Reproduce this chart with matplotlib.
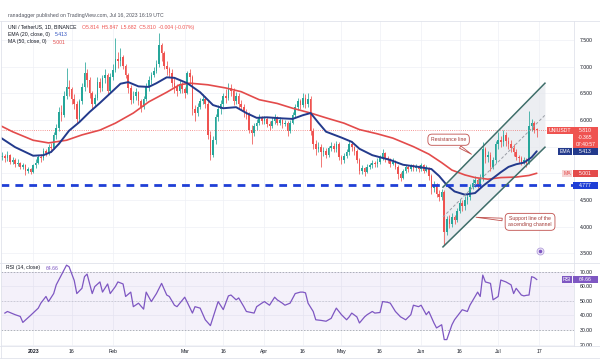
import numpy as np
import matplotlib
matplotlib.use("Agg")
import matplotlib.pyplot as plt
from matplotlib.patches import Rectangle
from matplotlib.lines import Line2D

plt.rcParams['font.family'] = ['Liberation Sans', 'DejaVu Sans']

W, H = 600, 360

# daily candles UNI/USDT, day 0 = 2023-01-01, first candle 2022-12-20
first_day = -12
first_open = 5.30
closes = [
    5.32, 5.28, 5.35, 5.22, 5.25, 5.18, 5.20,
    5.12, 5.15, 5.05, 5.08, 5.02, 5.15, 5.20,
    5.30, 5.28, 5.42, 5.38, 5.50, 5.47, 5.72,
    5.85, 6.15, 6.10, 6.45, 6.62, 6.58, 6.40,
    6.30, 6.02, 6.35, 6.62, 6.88, 6.75, 6.50,
    6.30, 6.42, 6.72, 6.60, 6.78, 6.85, 6.55,
    6.80, 6.94, 7.15, 7.10, 7.18, 7.02, 6.85,
    6.60, 6.38, 6.45, 6.52, 6.35, 6.25, 6.40,
    6.62, 6.75, 6.85, 6.92, 7.05, 7.40, 7.25,
    7.02, 6.95, 6.88, 6.70, 6.62, 6.55, 6.68,
    6.58, 6.50, 6.88, 6.80, 6.20, 6.13, 6.25,
    6.35, 6.40, 6.30, 5.72, 5.35, 5.62, 6.05,
    6.20, 6.30, 6.45, 6.42, 6.60, 6.55, 6.35,
    6.45, 6.30, 6.25, 6.15, 6.10, 5.82, 5.75,
    5.88, 5.95, 6.05, 5.98, 6.02, 5.92, 5.88,
    5.98, 6.05, 5.95, 6.00, 5.92, 5.95, 5.80,
    5.95, 6.10, 6.25, 6.35, 6.28, 6.42, 6.30,
    6.40, 5.80, 5.55, 5.45, 5.50, 5.40, 5.42,
    5.35, 5.48, 5.52, 5.45, 5.55, 5.30, 5.25,
    5.32, 5.40, 5.55, 5.50, 5.42, 5.25, 5.05,
    5.10, 5.02, 5.12, 5.15, 5.20, 5.18, 5.22,
    5.30, 5.38, 5.28, 5.25, 5.18, 5.22, 5.12,
    4.98, 4.92, 5.05, 5.12, 5.08, 5.15, 5.10,
    5.12, 5.08, 5.15, 5.05, 5.10, 4.95, 4.72,
    4.78, 4.62, 4.55, 4.65, 3.90, 4.15, 4.05,
    4.18, 4.12, 4.30, 4.45, 4.38, 4.50, 4.55,
    4.75, 4.82, 4.88, 4.80, 4.90, 5.45, 5.30,
    5.35, 5.12, 5.25, 5.55, 5.62, 5.58, 5.72,
    5.60, 5.55, 5.48, 5.40, 5.30, 5.28, 5.22,
    5.25, 5.20, 5.88, 5.95, 5.814, 5.810,
]
highs = [
    5.40, 5.36, 5.42, 5.37, 5.30, 5.28, 5.26,
    5.22, 5.20, 5.17, 5.12, 5.10, 5.18, 5.26,
    5.35, 5.36, 5.48, 5.46, 5.55, 5.56, 5.78,
    5.92, 6.25, 6.28, 6.55, 6.97, 6.75, 6.62,
    6.48, 6.35, 6.40, 6.70, 7.09, 6.95, 6.80,
    6.55, 6.48, 6.80, 6.78, 6.85, 6.95, 6.88,
    6.88, 7.05, 7.54, 7.28, 7.35, 7.22, 7.05,
    6.88, 6.65, 6.55, 6.60, 6.55, 6.40, 6.45,
    6.70, 6.82, 6.90, 7.00, 7.12, 7.63, 7.45,
    7.30, 7.10, 7.00, 6.95, 6.78, 6.68, 6.75,
    6.72, 6.62, 6.92, 6.95, 6.85, 6.28, 6.32,
    6.42, 6.48, 6.45, 6.35, 5.80, 5.70, 6.12,
    6.28, 6.38, 6.50, 6.58, 6.70, 6.68, 6.60,
    6.52, 6.50, 6.38, 6.30, 6.20, 6.15, 5.90,
    5.95, 6.02, 6.12, 6.08, 6.08, 6.05, 5.98,
    6.05, 6.12, 6.08, 6.05, 6.02, 6.00, 5.98,
    6.00, 6.15, 6.30, 6.42, 6.40, 6.50, 6.48,
    6.50, 6.45, 5.85, 5.62, 5.58, 5.55, 5.50,
    5.48, 5.52, 5.58, 5.56, 5.60, 5.58, 5.35,
    5.38, 5.45, 5.62, 5.60, 5.52, 5.45, 5.28,
    5.15, 5.12, 5.18, 5.20, 5.25, 5.24, 5.28,
    5.35, 5.45, 5.40, 5.32, 5.28, 5.28, 5.25,
    5.15, 5.02, 5.08, 5.15, 5.15, 5.18, 5.18,
    5.18, 5.15, 5.20, 5.18, 5.15, 5.12, 4.98,
    4.85, 4.82, 4.68, 4.70, 4.68, 4.20, 4.22,
    4.25, 4.22, 4.35, 4.52, 4.50, 4.58, 4.62,
    4.80, 4.90, 4.95, 4.92, 4.98, 5.58, 5.50,
    5.42, 5.40, 5.30, 5.60, 5.78, 5.70, 5.82,
    5.78, 5.68, 5.62, 5.55, 5.45, 5.35, 5.32,
    5.30, 5.28, 6.17, 6.02, 5.98, 5.847,
]
lows = [
    5.25, 5.22, 5.24, 5.17, 5.18, 5.12, 5.14,
    5.08, 5.08, 4.97, 5.00, 4.98, 5.00, 5.10,
    5.18, 5.22, 5.25, 5.32, 5.35, 5.40, 5.45,
    5.65, 5.80, 5.98, 6.05, 6.40, 6.45, 6.30,
    6.20, 5.95, 5.98, 6.30, 6.55, 6.62, 6.42,
    6.20, 6.25, 6.38, 6.52, 6.55, 6.70, 6.48,
    6.50, 6.75, 6.90, 6.98, 7.02, 6.95, 6.78,
    6.50, 6.30, 6.32, 6.38, 6.28, 6.15, 6.20,
    6.35, 6.55, 6.68, 6.80, 6.88, 7.00, 7.10,
    6.95, 6.85, 6.80, 6.62, 6.50, 6.45, 6.50,
    6.50, 6.42, 6.48, 6.70, 6.10, 5.98, 6.08,
    6.20, 6.30, 6.22, 5.65, 5.25, 5.30, 5.55,
    5.98, 6.12, 6.25, 6.32, 6.38, 6.45, 6.28,
    6.30, 6.22, 6.18, 6.05, 6.02, 5.75, 5.55,
    5.70, 5.82, 5.90, 5.92, 5.92, 5.86, 5.82,
    5.85, 5.92, 5.90, 5.90, 5.85, 5.88, 5.70,
    5.75, 5.92, 6.05, 6.18, 6.20, 6.25, 6.22,
    6.25, 5.72, 5.45, 5.35, 5.40, 5.12, 5.32,
    5.28, 5.30, 5.42, 5.40, 5.40, 5.25, 5.18,
    5.20, 5.28, 5.35, 5.42, 5.35, 5.20, 4.98,
    4.98, 4.95, 5.00, 5.08, 5.10, 5.12, 5.12,
    5.18, 5.25, 5.22, 5.20, 5.12, 5.15, 5.08,
    4.90, 4.85, 4.90, 5.00, 5.02, 5.05, 5.05,
    5.05, 5.02, 5.05, 5.00, 5.02, 4.88, 4.62,
    4.65, 4.55, 4.48, 4.50, 3.65, 3.85, 3.98,
    4.00, 4.05, 4.08, 4.25, 4.30, 4.32, 4.42,
    4.50, 4.70, 4.75, 4.72, 4.75, 4.85, 5.20,
    5.22, 5.05, 5.08, 5.20, 5.45, 5.50, 5.52,
    5.52, 5.45, 5.40, 5.32, 5.25, 5.20, 5.15,
    5.18, 5.12, 5.18, 5.80, 5.75, 5.682,
]

# EMA 20 and MA 50 (day, value)
ema_days = [-13, -7, 0, 4, 7, 10, 14, 18, 22, 26, 30, 34, 37, 41, 45, 48, 52, 55,
            60, 65, 70, 74, 79, 83, 87, 91, 97, 101, 105, 108, 111, 114, 120, 124,
            127, 132, 139, 144, 150, 155, 158, 161, 164, 168, 172, 175, 179, 182,
            185, 188, 191, 194, 196]
ema_vals = [5.68, 5.49, 5.33, 5.34, 5.40, 5.55, 5.80, 5.96, 6.15, 6.32, 6.50, 6.68,
            6.71, 6.63, 6.62, 6.69, 6.80, 6.79, 6.69, 6.52, 6.28, 6.22, 6.24, 6.13,
            6.04, 6.05, 6.03, 6.02, 6.09, 6.13, 5.95, 5.78, 5.67, 5.59, 5.46, 5.34,
            5.25, 5.16, 5.12, 5.08, 4.95, 4.78, 4.66, 4.60, 4.63, 4.76, 4.91, 5.02,
            5.12, 5.17, 5.20, 5.30, 5.413]
ma_days = [-13, -8, 0, 6, 13, 19, 26, 32, 39, 45, 52, 57, 61, 68, 75, 81, 88, 95,
           101, 108, 114, 121, 127, 134, 140, 148, 154, 159, 163, 168, 172, 177,
           182, 188, 193, 196]
ma_vals = [5.90, 5.78, 5.62, 5.57, 5.62, 5.72, 5.81, 5.94, 6.13, 6.34, 6.52, 6.66,
           6.69, 6.66, 6.60, 6.53, 6.38, 6.31, 6.22, 6.13, 6.04, 5.94, 5.82, 5.74,
           5.66, 5.50, 5.36, 5.20, 5.06, 4.97, 4.92, 4.89, 4.92, 4.93, 4.96, 5.001]

# RSI 14 (day, value)
rsi_days = [-11, -10, -7, -5, -4, -1, 2, 3, 5, 6, 8, 9, 11, 13, 14, 16, 17, 19, 20,
            21, 23, 24, 26, 27, 29, 30, 32, 33, 35, 36, 38, 39, 41, 43, 44, 46, 48,
            50, 52, 53, 55, 56, 59, 60, 62, 63, 65, 67, 69, 71, 72, 74, 76, 77, 79,
            80, 82, 83, 86, 87, 89, 90, 92, 94, 95, 97, 98, 100, 102, 104, 105, 106,
            107, 109, 110, 112, 114, 116, 117, 118, 120, 122, 123, 124, 126, 127,
            129, 130, 132, 133, 135, 136, 138, 139, 141, 143, 145, 147, 148, 150,
            151, 153, 154, 156, 157, 159, 160, 161, 163, 164, 166, 167, 169, 170,
            172, 173, 174, 175, 176, 178, 179, 181, 182, 184, 186, 187, 188, 190,
            191, 192, 193, 194, 195, 196]
rsi_vals = [41.6, 42.7, 40.5, 39.3, 35.2, 40.0, 45.0, 48.4, 53.0, 49.5, 55.0, 61.0,
            67.7, 74.5, 73.4, 64.0, 55.0, 58.6, 66.6, 68.4, 55.0, 59.8, 63.0, 56.0,
            61.6, 55.0, 59.8, 63.0, 61.6, 53.0, 56.0, 46.0, 48.4, 44.3, 56.0, 49.5,
            55.0, 62.0, 54.0, 53.0, 47.0, 46.0, 52.5, 49.0, 41.6, 46.0, 45.0, 37.0,
            33.0, 44.0, 49.5, 44.0, 53.4, 54.0, 50.7, 52.0, 46.0, 42.7, 41.6, 46.0,
            48.4, 49.5, 47.0, 52.5, 50.7, 48.4, 47.0, 48.4, 55.0, 56.0, 56.0, 55.5,
            48.4, 42.7, 37.0, 36.6, 36.0, 38.0, 41.6, 45.0, 40.5, 37.0, 39.0, 41.6,
            39.0, 34.8, 39.0, 40.5, 42.7, 41.6, 42.0, 49.5, 49.0, 48.4, 42.7, 39.0,
            37.0, 40.5, 47.0, 46.0, 47.0, 40.5, 42.7, 34.8, 31.4, 33.6, 23.4, 23.4,
            33.6, 37.0, 41.6, 43.9, 42.7, 47.0, 53.0, 56.0, 53.0, 67.7, 63.0, 62.0,
            50.7, 53.0, 64.3, 63.0, 61.0, 55.0, 58.6, 54.0, 53.4, 53.8, 54.0, 66.6,
            66.0, 64.66]

support_level = 4.777
last_price = 5.810
ema_last = 5.413
ma_last = 5.001
rsi_last = 64.66

channel_days = [159.5, 199.2]
channel_upper = [4.74, 6.69]
channel_lower = [3.62, 5.49]
channel_mid = [4.18, 6.09]

tick_days = [0, 15, 31, 59, 74, 90, 105, 120, 135, 151, 166, 181, 197]
tick_labels = ['2023', '16', 'Feb', 'Mar', '16', 'Apr', '16', 'May', '16', 'Jun', '16', 'Jul', '17']
price_ticks = [3.5, 4.0, 4.5, 5.0, 5.5, 6.0, 6.5, 7.0, 7.5]
price_labels = ['3.500', '4.000', '4.500', '', '', '6.000', '6.500', '7.000', '7.500']
rsi_ticks = [20, 30, 40, 50, 60, 70]

GREEN = '#26a69a'
RED = '#ef5350'
NAVY = '#233a8c'
MARED = '#e34b4b'
PURPLE = '#7e57c2'
TXT = '#131722'
FS = 3.7


def axrect(x0, y0, x1, y1):
    return [x0 / W, 1 - y1 / H, (x1 - x0) / W, (y1 - y0) / H]


fig = plt.figure(figsize=(W / 100, H / 100), dpi=100)
ax = fig.add_axes(axrect(1, 21, 574, 262))
ax2 = fig.add_axes(axrect(1, 264, 574, 346))

for a in (ax, ax2):
    for s in a.spines.values():
        s.set_visible(False)
    a.set_xlim(-12.5, 210.5)
    a.set_xticks(tick_days)
    a.grid(True, color='#eef0f5', lw=0.5)
    a.set_axisbelow(True)
    a.yaxis.tick_right()
    a.tick_params(length=0, labelsize=FS, labelcolor=TXT, pad=4)

# ---- main price pane ----
ax.set_ylim(3.337, 7.856)
ax.set_yticks(price_ticks, price_labels)
ax.tick_params(axis='x', labelbottom=False)

closes = np.array(closes)
highs = np.array(highs)
lows = np.array(lows)
opens = np.r_[first_open, closes[:-1]]
days = np.arange(first_day, first_day + len(closes))
col = np.where(closes >= opens, GREEN, RED)
top = np.maximum(opens, closes)
bot = np.minimum(opens, closes)

ax.fill_between(channel_days, channel_lower, channel_upper, color='#e6e9ee', alpha=0.75, lw=0, zorder=1)
ax.vlines(days, np.minimum(lows, bot), np.maximum(highs, top), colors=col, lw=0.55, zorder=2)
ax.bar(days, np.maximum(top - bot, 0.012), 0.62, bot, color=col, lw=0, zorder=3)

ax.plot(ma_days, ma_vals, color=MARED, lw=1.2, zorder=4, solid_capstyle='round')
ax.plot(ema_days, ema_vals, color=NAVY, lw=1.4, zorder=5, solid_capstyle='round')

ax.axhline(last_price, color=RED, lw=0.6, ls=(0, (1, 1.6)), alpha=0.8, zorder=2)
ax.axhline(support_level, color='#1f3fd6', lw=2.0, ls=(0, (2.8, 2.2)), zorder=6)

ax.plot(channel_days, channel_upper, color='#3f6e6a', lw=1.1, zorder=7)
ax.plot(channel_days, channel_lower, color='#3f6e6a', lw=1.1, zorder=7)
ax.plot(channel_days, channel_mid, color='#9a9ea6', lw=0.7, ls=(0, (3, 2)), zorder=7)

bubble = dict(boxstyle='round,pad=0.6,rounding_size=0.8', fc='white', ec='#c0504d', lw=0.6)
wedge = dict(arrowstyle='wedge,tail_width=0.5', fc='white', ec='#c0504d', lw=0.6)
ax.annotate('Resistance line', xy=(171.5, 5.33), xytext=(161.7, 5.63), ha='center', va='center',
            fontsize=FS, color='#a33a36', bbox=bubble, arrowprops=wedge, zorder=9)
ax.annotate('Support line of the\nascending channel', xy=(171.3, 4.18), xytext=(193.4, 4.09),
            ha='center', va='center', fontsize=FS, color='#a33a36', linespacing=1.2,
            bbox=bubble, arrowprops=wedge, zorder=9, annotation_clip=False)

ax.plot([0.9407], [0.045], transform=ax.transAxes, marker='o', ms=5, mfc='#ede7f6', mec='#b39ddb', mew=0.6, clip_on=False)
ax.plot([0.9407], [0.045], transform=ax.transAxes, marker='o', ms=1.6, mfc=PURPLE, mec=PURPLE, clip_on=False)

# ---- RSI pane ----
ax2.set_ylim(19.0, 75.3)
ax2.set_yticks(rsi_ticks, ['%.2f' % v for v in rsi_ticks])
ax2.set_xticks(tick_days, tick_labels)
ax2.tick_params(axis='x', pad=2.5)
ax2.get_xticklabels()[0].set_fontweight('bold')
ax2.axhspan(30, 70, color=PURPLE, alpha=0.08, lw=0)
for lvl, al in ((70, 0.9), (50, 0.45), (30, 0.9)):
    ax2.axhline(lvl, color='#9598a1', lw=0.55, ls=(0, (2, 2)), alpha=al)
ax2.plot(rsi_days, rsi_vals, color=PURPLE, lw=0.9)


# ---- scale tags ----
def fig_y(a, v):
    return fig.transFigure.inverted().transform(a.transData.transform((0, v)))[1]


def tag(a, v, x0, x1, txt, fc, tc, h=7.0):
    yc = fig_y(a, v)
    fig.patches.append(Rectangle((x0 / W, yc - h / 2 / H), (x1 - x0) / W, h / H, transform=fig.transFigure,
                                 fc=fc, ec='none', zorder=5))
    fig.text((x0 + x1) / 2 / W, yc, txt, ha='center', va='center', fontsize=FS, color=tc, zorder=6)


tag(ax, last_price, 547, 573, 'UNIUSDT', RED, 'white')
yc = fig_y(ax, last_price)
fig.patches.append(Rectangle((573 / W, yc - 20.5 / H), 25 / W, 24 / H, transform=fig.transFigure, fc=RED, ec='none', zorder=5))
fig.text(585.5 / W, yc, '%.3f' % last_price, ha='center', va='center', fontsize=FS, color='white', zorder=6)
fig.text(585.5 / W, yc - 7 / H, '-0.365', ha='center', va='center', fontsize=FS, color='white', zorder=6)
fig.text(585.5 / W, yc - 14 / H, '07:40:57', ha='center', va='center', fontsize=FS, color='white', zorder=6)
tag(ax, ema_last, 558, 572, 'EMA', NAVY, 'white')
tag(ax, ema_last, 573, 598, '%.3f' % ema_last, NAVY, 'white')
tag(ax, ma_last, 562, 572, 'MA', '#f6d3d3', MARED)
tag(ax, ma_last, 573, 598, '%.3f' % ma_last, MARED, 'white')
tag(ax, support_level, 573, 598, '%.3f' % support_level, '#1f3fd6', 'white')
tag(ax2, rsi_last, 562, 572, 'RSI', PURPLE, 'white')
tag(ax2, rsi_last, 573, 598, '%.2f' % rsi_last, PURPLE, 'white')


# ---- header and legends ----
def ftext(x, y, s, c=TXT, **kw):
    fig.text(x / W, 1 - y / H, s, fontsize=FS, color=c, va='center', ha='left', **kw)


ftext(8, 15, 'ranadagger published on TradingView.com, Jul 16, 2023 16:19 UTC', '#50535e')
ftext(8, 27, 'UNI / TetherUS, 1D, BINANCE')
ftext(82, 27, 'O5.814  H5.847  L5.682  C5.810  -0.004 (-0.07%)', RED)
ftext(8, 34.5, 'EMA (20, close, 0)')
ftext(55, 34.5, '5.413', '#2c4fbf')
ftext(8, 42, 'MA (50, close, 0)')
ftext(53, 42, '5.001', MARED)
ftext(6, 268, 'RSI (14, close)')
ftext(46, 268, '64.66', PURPLE)

# frame lines
for xs, ys in (([0, 600], [21, 21]), ([0, 600], [263, 263]), ([0, 600], [346, 346]),
               ([574, 574], [21, 346]), ([0.5, 0.5], [21, 358]), ([599.5, 599.5], [21, 358]),
               ([0, 600], [358, 358])):
    fig.add_artist(Line2D([x / W for x in xs], [1 - y / H for y in ys], transform=fig.transFigure,
                          color='#e0e3eb', lw=0.6))

fig.savefig('out.png', dpi=100)
